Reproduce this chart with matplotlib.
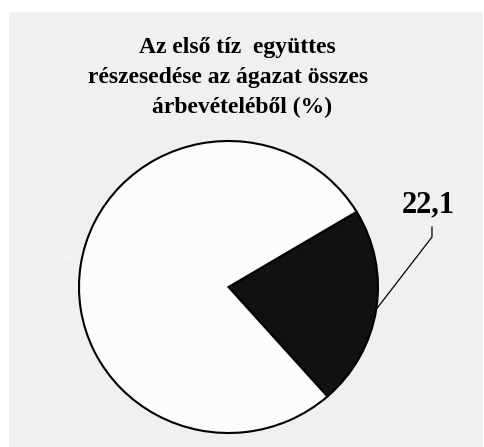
import numpy as np
import matplotlib
matplotlib.use("Agg")
import matplotlib.pyplot as plt
from matplotlib.patches import Rectangle

labels = ["22,1", "77,9"]
values = [22.1, 77.9]
colors = ["#111111", "#fcfcfc"]
title_lines = ["Az első tíz  együttes", "részesedése az ágazat összes", "árbevételéből (%)"]
title_x_px = [237, 228, 242]
title_y_px = [47, 77, 107]

W, H = 485, 447
fig = plt.figure(figsize=(W / 100, H / 100), dpi=100)
fig.patch.set_facecolor("white")
fig.add_artist(Rectangle((9 / W, 0), (483 - 9) / W, (H - 12) / H,
                         transform=fig.transFigure, facecolor="#f0f0f0",
                         edgecolor="none", zorder=0))

serif = ["Liberation Serif", "DejaVu Serif"]
for line, xp, yp in zip(title_lines, title_x_px, title_y_px):
    fig.text(xp / W, 1 - yp / H, line, ha="center", va="center",
             fontsize=17, fontweight="bold", family=serif, color="black")

cx, cy, rx, ry = 228.5, 287, 149.5, 146
ax = fig.add_axes([(cx - rx) / W, (H - cy - ry) / H, 2 * rx / W, 2 * ry / H])
ax.set_facecolor("none")
startangle = 31
wedges, _ = ax.pie(values, colors=colors, startangle=startangle, counterclock=False,
                   radius=1, wedgeprops=dict(edgecolor="black", linewidth=1.5))
ax.set_aspect("auto")
ax.set_xlim(-1, 1)
ax.set_ylim(-1, 1)
ax.axis("off")

# label for black slice with leader line
w = wedges[0]
mid = np.deg2rad((w.theta1 + w.theta2) / 2)
ex, ey = np.cos(mid), np.sin(mid)
lx, ly = 1.361, 0.411
ax.plot([ex, lx, lx], [ey, ly - 0.069, ly], color="black", lw=0.9, clip_on=False)
ax.text(1.334, 0.562, labels[0], ha="center", va="center", fontsize=22,
        fontweight="bold", family=serif, color="black", clip_on=False)

# tiny white label for white slice
ax.text(-1.08, 0.2, labels[1], ha="center", va="center", fontsize=4.5,
        family=serif, color="white", clip_on=False)

fig.savefig("out.png", dpi=100, facecolor=fig.get_facecolor())
